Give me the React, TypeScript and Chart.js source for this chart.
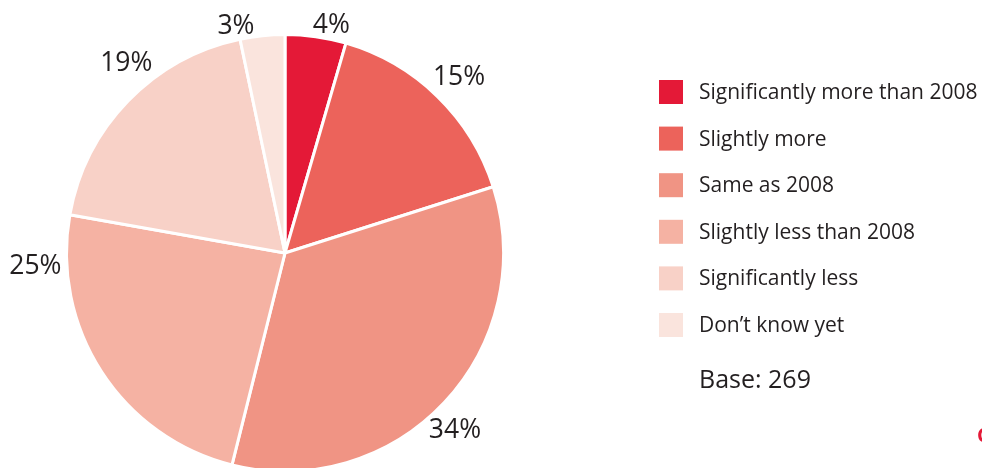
import React, { useEffect, useRef } from "react";
import { Chart, registerables } from "chart.js";

Chart.register(...registerables);

// ---- data ----
const categories = [
  "Significantly more than 2008",
  "Slightly more",
  "Same as 2008",
  "Slightly less than 2008",
  "Significantly less",
  "Don’t know yet",
];
const sliceShares = [4.5, 15.6, 33.8, 23.9, 18.9, 3.3];
// percentages printed next to the slices
const printedPercents = [4, 15, 34, 25, 19, 3];
const sliceColors = ["#E41937", "#EC635B", "#F09484", "#F5B2A3", "#F8D1C7", "#FAE4DD"];
const baseNote = "Base: 269";

const FONT = "'Open Sans', 'Noto Sans', sans-serif";
const TEXT = "#231F20";

const overlayPlugin = {
  id: "overlay",
  afterDatasetsDraw(chart: any, _args: any, opts: any) {
    const ctx = chart.ctx as CanvasRenderingContext2D;
    const meta = chart.getDatasetMeta(0);
    const ds = chart.data.datasets[0];
    ctx.save();
    ctx.fillStyle = TEXT;
    ctx.textBaseline = "middle";
    ctx.textAlign = "center";
    ctx.font = `${opts.pctSize}px ${FONT}`;
    meta.data.forEach((arc: any, i: number) => {
      const p = opts.placements[i];
      const a = ((p.angle - 90) * Math.PI) / 180;
      const x = arc.x + Math.cos(a) * p.dist;
      const y = arc.y + Math.sin(a) * p.dist;
      ctx.fillText(`${printedPercents[i]}%`, x, y);
    });

    // legend
    const lg = opts.legend;
    ctx.textAlign = "left";
    ctx.font = `${lg.fontSize}px ${FONT}`;
    (chart.data.labels as string[]).forEach((label: string, i: number) => {
      const top = lg.top + i * lg.rowGap;
      ctx.fillStyle = ds.backgroundColor[i];
      ctx.fillRect(lg.x, top, lg.box, lg.box);
      ctx.fillStyle = TEXT;
      ctx.fillText(label, lg.textX, top + lg.box / 2 + 1);
    });
    ctx.font = `${lg.baseSize}px ${FONT}`;
    ctx.fillText(baseNote, lg.textX, lg.baseY);

    // cut-off logo mark at the right edge
    ctx.fillStyle = "#E41937";
    ctx.font = `bold 20px ${FONT}`;
    ctx.fillText("C", 977, 436);
    ctx.restore();
  },
};

export default function App() {
  const ref = useRef<HTMLCanvasElement | null>(null);
  useEffect(() => {
    if (!ref.current) return;
    const chart = new Chart(ref.current, {
      type: "pie",
      data: {
        labels: categories,
        datasets: [
          {
            data: sliceShares,
            backgroundColor: sliceColors,
            borderColor: "#FFFFFF",
            borderWidth: 3,
            clip: false as any,
          } as any,
        ],
      },
      options: {
        responsive: false,
        animation: false,
        radius: 218.5,
        layout: { padding: { left: 0, right: 412, top: 38, bottom: 0 } },
        plugins: {
          legend: { display: false },
          tooltip: { enabled: false },
          overlay: {
            pctSize: 26.5,
            placements: [
              { angle: 11.5, dist: 232 },
              { angle: 44.8, dist: 247 },
              { angle: 136.3, dist: 246 },
              { angle: 267, dist: 250 },
              { angle: 320, dist: 247 },
              { angle: 347.8, dist: 232 },
            ],
            legend: {
              x: 659,
              top: 80,
              rowGap: 46.6,
              box: 24,
              textX: 699,
              fontSize: 21,
              baseSize: 25,
              baseY: 381,
            },
          },
        } as any,
      },
      plugins: [overlayPlugin],
    });
    return () => chart.destroy();
  }, []);

  return (
    <div style={{ position: "absolute", left: 0, top: 0, width: 982, height: 468, background: "#fff" }}>
      <canvas ref={ref} width={982} height={468} style={{ display: "block" }} />
    </div>
  );
}
